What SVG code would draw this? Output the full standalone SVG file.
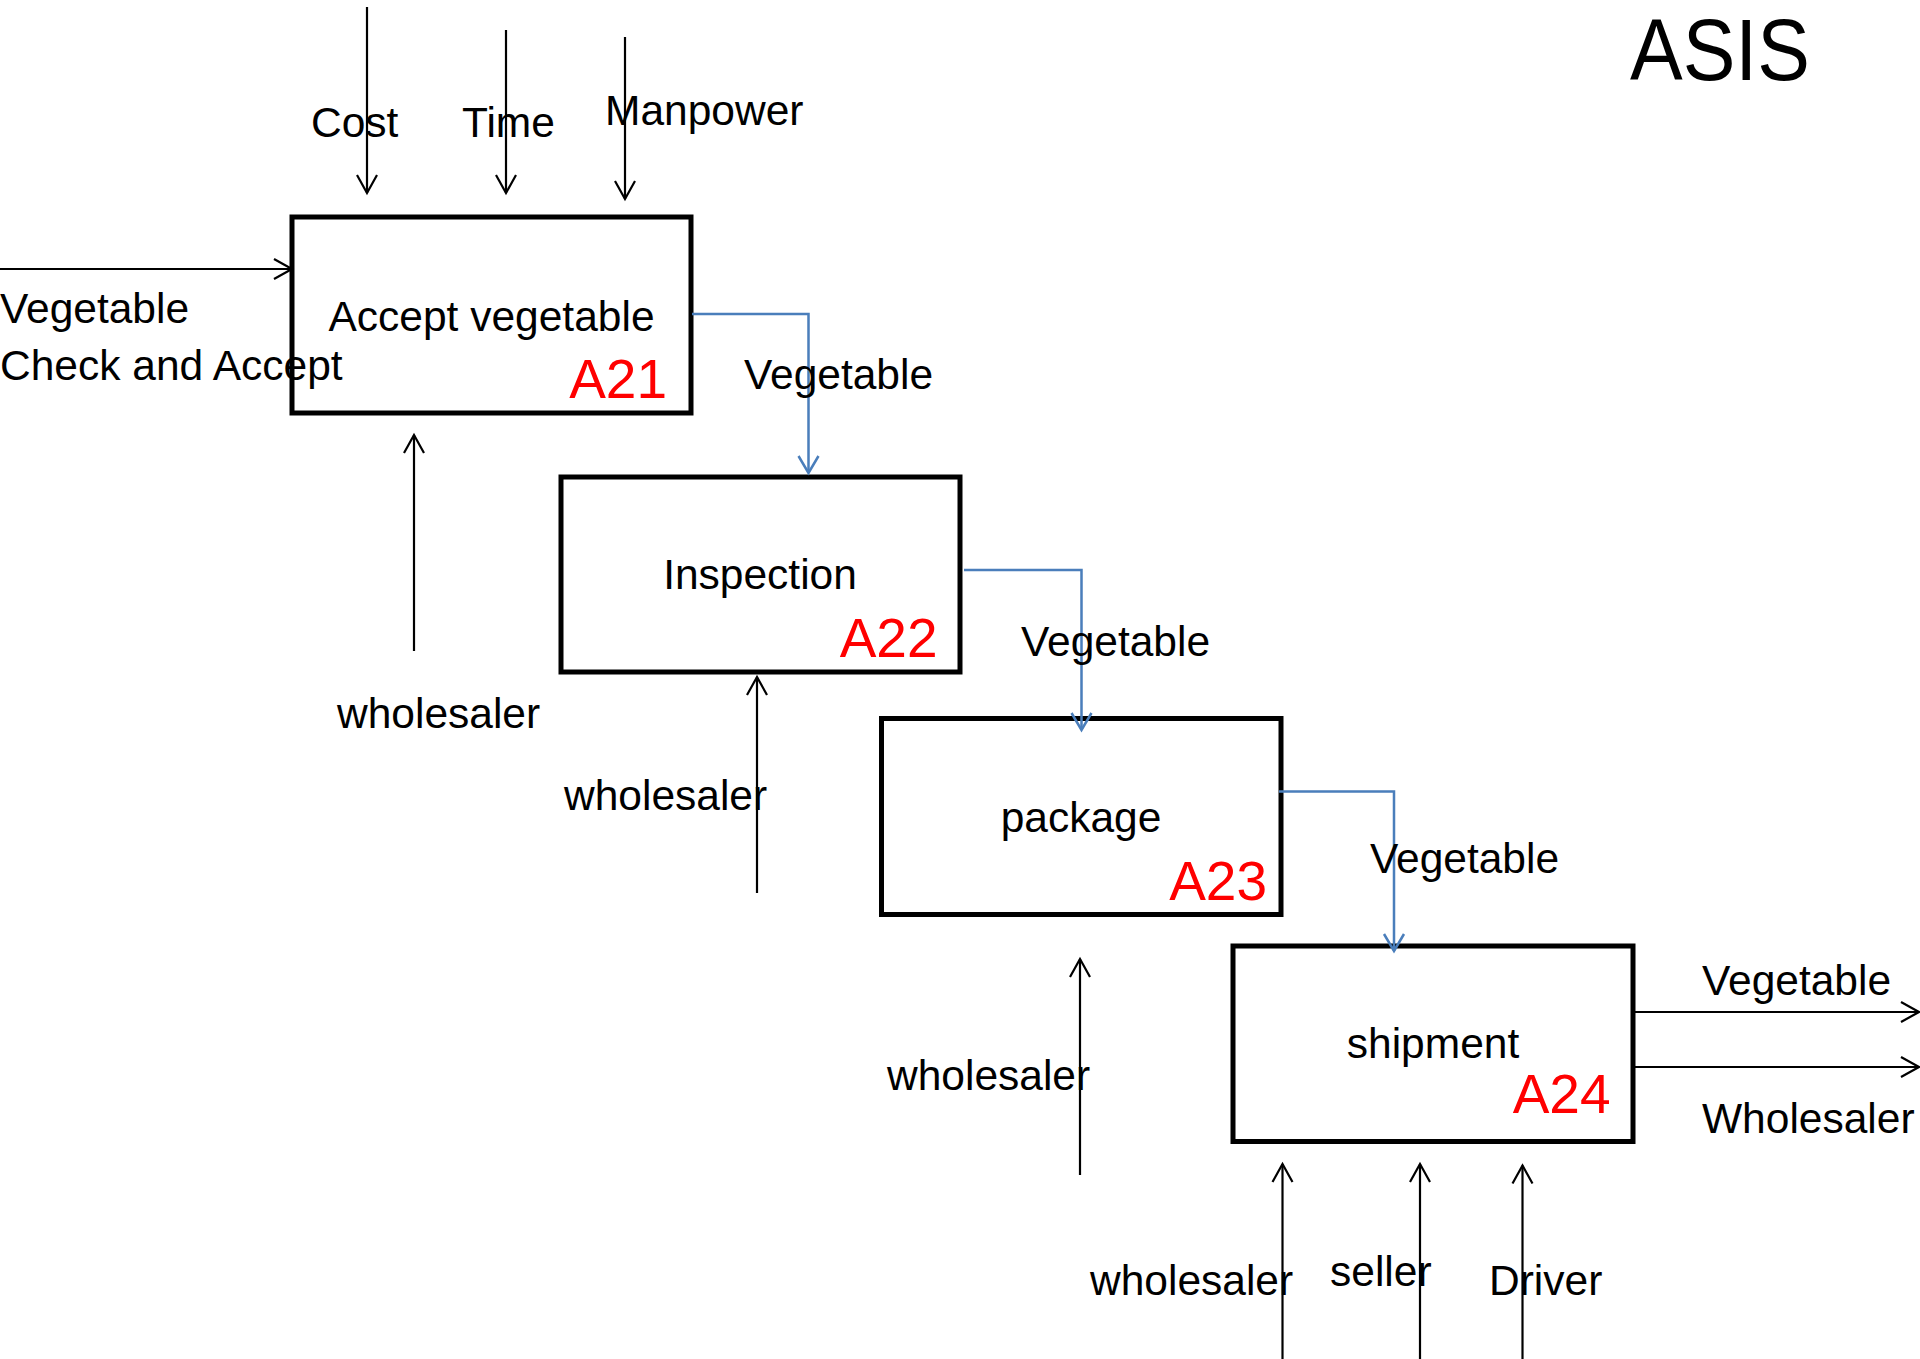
<svg xmlns="http://www.w3.org/2000/svg" width="1920" height="1359" viewBox="0 0 1920 1359">
  <style>
    .box { fill: #ffffff; stroke: #000000; stroke-width: 5; }
    .lbl { font-family: "Liberation Sans", Arial, sans-serif; font-size: 42.5px; fill: #000000; }
    .ctr { text-anchor: middle; }
    .code { font-family: "Liberation Sans", Arial, sans-serif; font-size: 55px; fill: #ff0000; text-anchor: end; }
    .title { font-family: "Liberation Sans", Arial, sans-serif; font-size: 88px; fill: #000000; }
    .blk { fill: none; stroke: #000000; stroke-width: 2.2; marker-end: url(#arrowK); }
    .blu { fill: none; stroke: #4A7EBB; stroke-width: 2.5; marker-end: url(#arrowB); }
  </style>
  <defs>
    <marker id="arrowK" markerUnits="userSpaceOnUse" markerWidth="30" markerHeight="30" refX="22" refY="12" orient="auto" overflow="visible">
      <path d="M4,2 L22,12 L4,22" fill="none" stroke="#000000" stroke-width="2.2"/>
    </marker>
    <marker id="arrowB" markerUnits="userSpaceOnUse" markerWidth="30" markerHeight="30" refX="22" refY="12" orient="auto" overflow="visible">
      <path d="M5,2 L22,12 L5,22" fill="none" stroke="#4A7EBB" stroke-width="2.5"/>
    </marker>
  </defs>
  <rect width="1920" height="1359" fill="#ffffff"/>

  <text class="title" x="1630" y="80" textLength="180" lengthAdjust="spacingAndGlyphs">ASIS</text>

  <g id="A21">
    <rect class="box" x="292" y="217" width="399" height="196"/>
    <text class="lbl ctr" x="491.5" y="331">Accept vegetable</text>
    <text class="code" x="667" y="398">A21</text>
  </g>
  <g id="A22">
    <rect class="box" x="561" y="477" width="399" height="195"/>
    <text class="lbl ctr" x="760" y="589">Inspection</text>
    <text class="code" x="937.5" y="657">A22</text>
  </g>
  <g id="A23">
    <rect class="box" x="881.5" y="718.5" width="399.5" height="196"/>
    <text class="lbl ctr" x="1081" y="832">package</text>
    <text class="code" x="1267" y="900">A23</text>
  </g>
  <g id="A24">
    <rect class="box" x="1233" y="946" width="400" height="195.5"/>
    <text class="lbl ctr" x="1433" y="1058">shipment</text>
    <text class="code" x="1610.5" y="1113">A24</text>
  </g>

  <g id="connectors">
    <line class="blk" x1="0" y1="269" x2="292" y2="269"/>
    <line class="blk" x1="367" y1="7" x2="367" y2="193"/>
    <line class="blk" x1="506" y1="30" x2="506" y2="193"/>
    <line class="blk" x1="625" y1="37" x2="625" y2="199"/>
    <line class="blk" x1="414" y1="651" x2="414" y2="435"/>
    <polyline class="blu" points="692,314 808.5,314 808.5,473"/>
    <line class="blk" x1="757" y1="893" x2="757" y2="677"/>
    <polyline class="blu" points="964,570 1081.5,570 1081.5,730"/>
    <line class="blk" x1="1080" y1="1175" x2="1080" y2="959"/>
    <polyline class="blu" points="1279,791.5 1394,791.5 1394,951"/>
    <line class="blk" x1="1633" y1="1012" x2="1919" y2="1012"/>
    <line class="blk" x1="1633" y1="1067" x2="1919" y2="1067"/>
    <line class="blk" x1="1282.5" y1="1359" x2="1282.5" y2="1164"/>
    <line class="blk" x1="1420" y1="1359" x2="1420" y2="1164"/>
    <line class="blk" x1="1522.5" y1="1359" x2="1522.5" y2="1165.5"/>
  </g>

  <g id="labels">
    <text class="lbl" x="311" y="137">Cost</text>
    <text class="lbl" x="462" y="137">Time</text>
    <text class="lbl" x="605" y="125">Manpower</text>
    <text class="lbl" x="0" y="323">Vegetable</text>
    <text class="lbl" x="0" y="380">Check and Accept</text>
    <text class="lbl" x="337" y="728">wholesaler</text>
    <text class="lbl" x="744" y="389">Vegetable</text>
    <text class="lbl" x="1021" y="656">Vegetable</text>
    <text class="lbl" x="564" y="810">wholesaler</text>
    <text class="lbl" x="1370" y="873">Vegetable</text>
    <text class="lbl" x="887" y="1090">wholesaler</text>
    <text class="lbl" x="1702" y="995">Vegetable</text>
    <text class="lbl" x="1702" y="1133">Wholesaler</text>
    <text class="lbl" x="1090" y="1295">wholesaler</text>
    <text class="lbl" x="1330" y="1286">seller</text>
    <text class="lbl" x="1489" y="1295">Driver</text>
  </g>
</svg>
